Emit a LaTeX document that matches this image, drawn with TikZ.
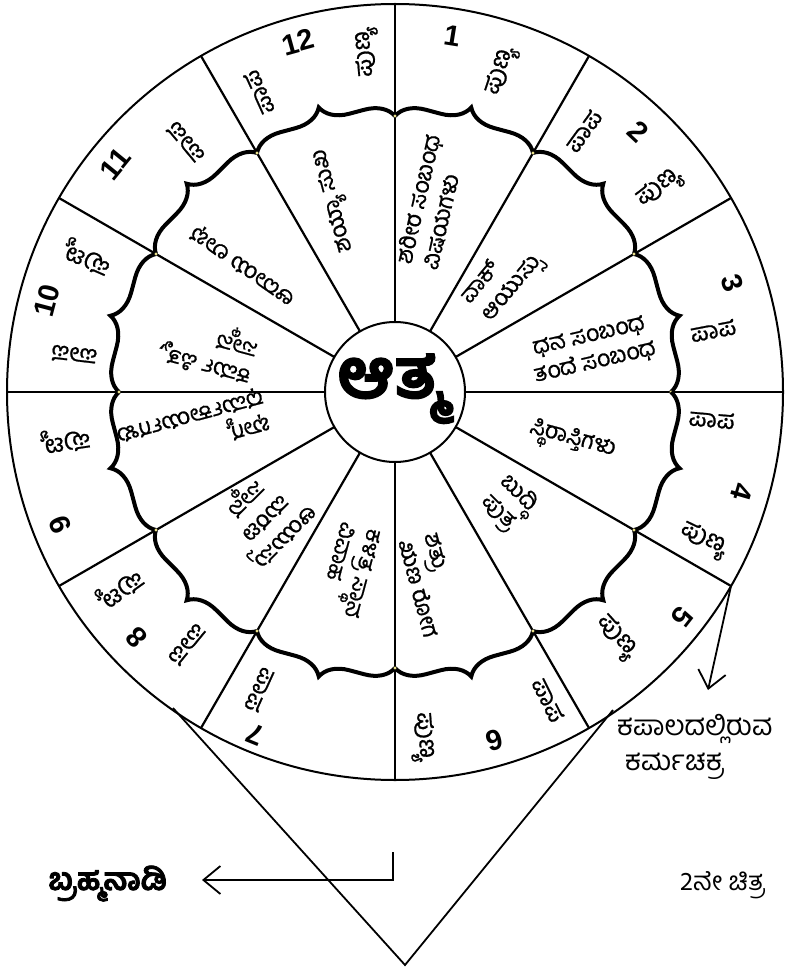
\documentclass[tikz,border=0pt]{standalone}
\usepackage{fontspec}
\setmainfont{Liberation Sans}
\newfontfamily\kn[Script=Kannada,FakeBold=0.8]{Hind Mysuru}
\newfontfamily\knl[Script=Kannada]{Hind Mysuru}
\newfontfamily\knb[Script=Kannada,FakeBold=2.5]{Hind Mysuru}
\usetikzlibrary{decorations.pathreplacing,arrows.meta,calc}
\begin{document}
\begin{tikzpicture}[x=1pt,y=-1pt,
  num/.style={font=\fontsize{29}{29}\selectfont\bfseries, inner sep=0pt},
  word/.style={font=\kn\fontsize{25}{26}\selectfont, inner sep=0pt},
  intext/.style={font=\kn\fontsize{23}{27}\selectfont, inner sep=0pt},
  brc/.style={decorate, decoration={brace, amplitude=28pt}, line width=4pt},
  spoke/.style={line width=2.2pt},
  lbl/.style={font=\knl\fontsize{28}{30}\selectfont, inner sep=0pt, anchor=base west},
  arr/.style={line width=1.8pt, -{Straight Barb[length=17pt,width=28pt,line width=1.8pt]}},
  vline/.style={line width=1.8pt},
  jdot/.style={fill={rgb,255:red,235;green,225;blue,140}, draw=none}
]
\useasboundingbox (0,0) rectangle (789,968);
\fill[white] (0,0) rectangle (789,968);
\begin{scope}[shift={(395,392)}, y=1pt]
  \coordinate (C) at (0,0);
  \draw[line width=2pt] (C) circle[radius=388];
  \foreach \a in {0,30,...,330} \draw[spoke] (\a:70) -- (\a:388);
  \draw[line width=2pt, fill=white] (C) circle[radius=70];
  \foreach \a in {0,30,...,330} {
    \draw[brc] (\a+30:276) -- (\a:276);
    \fill[jdot] (\a:276) circle[radius=1.6];
  }
  % centre
  \node[font=\knb\bfseries\fontsize{69}{69}\selectfont, inner sep=0pt, anchor=base] (atma) at (-4,-6) {ಆತ್ಮ};
  % numbers
  \foreach \n/\t/\r in {1/80.9/361, 2/46.9/356, 3/17.9/355, 4/-16.1/361, 5/-38/365, 6/-74/362,
      7/247.8/370, 8/223.5/356, 9/201.7/360, 10/165.3/360, 11/140.8/361, 12/105.5/363}
    \node[num, rotate=\t-90] (n\n) at (\t:\r) {\n};
  % outer words
  \foreach \w/\t/\r/\k in {ಪುಣ್ಯ/71.6/338/a, ಪಾಪ/114.4/329/b, ಪುಣ್ಯ/94.7/341/c, ಪಾಪ/54.1/322/d,
      ಪುಣ್ಯ/37.6/334/e, ಪಾಪ/10.9/324/f, ಪಾಪ/-5/318/g, ಪುಣ್ಯ/-25.7/342/h, ಪುಣ್ಯ/-48/330/i,
      ಪಾಪ/-63.6/344/j, ಪುಣ್ಯ/-85.5/346/k, ಪಾಪ/245.6/327/l, ಪಾಪ/230.6/327/m, ಪುಣ್ಯ/215.5/338/n,
      ಪುಣ್ಯ/188.3/333/o, ಪಾಪ/173.4/323/p, ಪುಣ್ಯ/156.3/336/q, ಪಾಪ/130/326/r}
    \node[word, rotate=\t] (w\k) at (\t:\r) {\w};
  % inner texts
  \node[intext, rotate=77, align=left] (s1) at (36,190) {ಶರೀರ ಸಂಬಂಧ\\ವಿಷಯಗಳು};
  \node[intext, rotate=50, align=left] (s2) at (108,112) {ವಾಕ್\\ಆಯುಸ್ಸು};
  \node[intext, rotate=13, align=center] (s3) at (197,42) {ಧನ ಸಂಬಂಧ\\ತಂದೆ ಸಂಬಂಧ};
  \node[intext, rotate=-15] (s4) at (177,-49) {ಸ್ಥಿರಾಸ್ತಿಗಳು};
  \node[intext, rotate=-45, align=center] (s5) at (113,-111) {ಬುದ್ಧಿ\\ಪುತ್ರ};
  \node[intext, rotate=-75, align=left] (s6) at (36,-193) {ಶತ್ರು\\ಋಣ ರೋಗ};
  \node[intext, rotate=-105, align=left] (s7) at (-45,-178) {ಕಳತ್ರ ಸ್ಥಾನ\\ವಿವಾಹ};
  \node[intext, rotate=225, align=center] (s8) at (-133,-123) {ಆಯುಸ್ಸು\\ಮರಣ\\ಸ್ಥಾನ};
  \node[intext, rotate=195, align=left] (s9) at (-202,-36) {ಭಾಗ್ಯ\\ಧರ್ಮಕಾರ್ಯಗಳು};
  \node[intext, rotate=165, align=left] (s10) at (-187,44) {ಕರ್ಮ ಪಿತೃ,\\ಸ್ಥಾನ};
  \node[intext, rotate=145] (s11) at (-152,127) {ಆದಾಯ ಲಾಭ};
  \node[intext, rotate=105] (s12) at (-60,192) {ಶಯ್ಯಾ ಸುಖ};
  \coordinate (arrA) at (-30:388);
\end{scope}
% labels and pointers
\coordinate (arrB) at (708,690);
\draw[arr] (arrA) -- (arrB);
\node[lbl] (kap) at (617,735) {ಕಪಾಲದಲ್ಲಿರುವ};
\node[lbl] (karma) at (625,770) {ಕರ್ಮಚಕ್ರ};
\node[lbl, font=\knl\fontsize{26}{28}\selectfont] (chit) at (680,890) {2ನೇ ಚಿತ್ರ};
\node[lbl, font=\knb\bfseries\fontsize{31}{32}\selectfont] (brahma) at (48,890) {ಬ್ರಹ್ಮನಾಡಿ};
\coordinate (bt) at (393,852);
\coordinate (bc) at (393,880);
\coordinate (bh) at (202,880);
\draw[arr] (bt) -- (bc) -- (bh);
\coordinate (vl) at (173,708);
\coordinate (vr) at (613,710);
\coordinate (vb) at (405,965);
\draw[vline] (vl) -- (vb) -- (vr);
\end{tikzpicture}
\end{document}
